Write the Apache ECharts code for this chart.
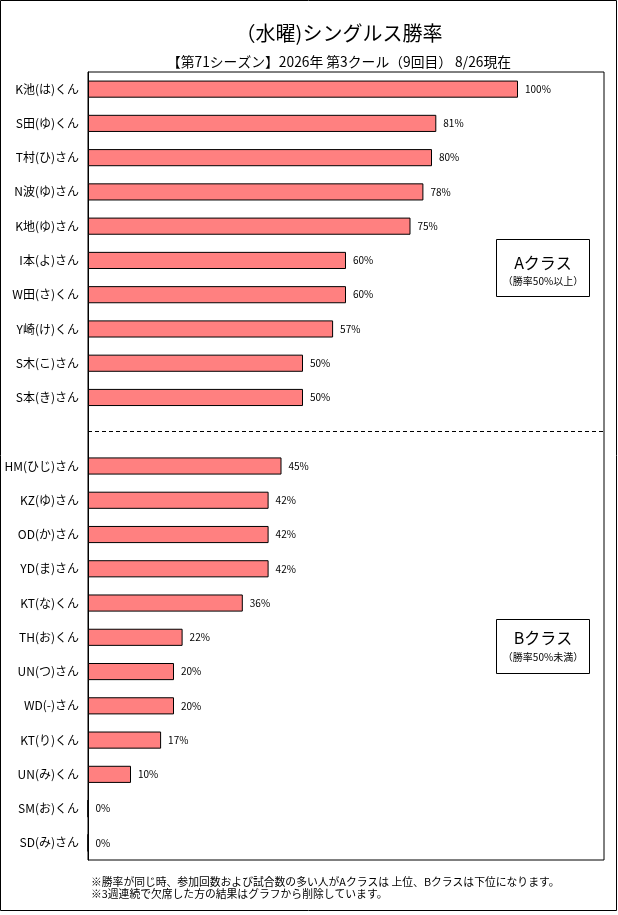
<!DOCTYPE html>
<html>
<head>
<meta charset="utf-8">
<script src="https://cdn.jsdelivr.net/npm/echarts@6/dist/echarts.min.js"></script>
<style>
html,body{margin:0;padding:0;background:#fff;}
#c{width:618px;height:915px;}
</style>
</head>
<body>
<div id="c"></div>
<script>
var titleText = '（水曜)シングルス勝率';
var subtitleText = '【第71シーズン】2026年 第3クール（9回目） 8/26現在';
var names = ['K池(は)くん','S田(ゆ)くん','T村(ひ)さん','N波(ゆ)さん','K地(ゆ)さん','I本(よ)さん','W田(さ)くん','Y崎(け)くん','S木(こ)さん','S本(き)さん',
  '',
  'HM(ひじ)さん','KZ(ゆ)さん','OD(か)さん','YD(ま)さん','KT(な)くん','TH(お)くん','UN(つ)さん','WD(-)さん','KT(り)くん','UN(み)くん','SM(お)くん','SD(み)さん'];
var winRates = [100,81,80,78,75,60,60,57,50,50,
  null,
  45,42,42,42,36,22,20,20,17,10,0,0];
var dividerIndex = 10;
var classA = ['Aクラス','（勝率50%以上）'];
var classB = ['Bクラス','（勝率50%未満）'];
var notes = ['※勝率が同じ時、参加回数および試合数の多い人がAクラスは 上位、Bクラスは下位になります。',
             '※3週連続で欠席した方の結果はグラフから削除しています。'];

var FF = '"Noto Sans CJK JP", "Noto Sans", sans-serif';
var chart = echarts.init(document.getElementById('c'), null, {renderer:'canvas'});
chart.setOption({
  animation:false,
  backgroundColor:'#fff',
  textStyle:{fontFamily:FF},
  title:[
    {text:titleText, left:334, textAlign:'center', top:18,
     textStyle:{fontFamily:FF, fontSize:20, fontWeight:'normal', color:'#000'}},
    {text:subtitleText, left:334, textAlign:'center', top:50,
     textStyle:{fontFamily:FF, fontSize:13.8, fontWeight:'normal', color:'#000'}}
  ],
  grid:{left:88, top:72, right:14, bottom:55, show:true, borderColor:'#000', borderWidth:1, backgroundColor:'transparent'},
  xAxis:{type:'value', min:0, max:120, show:false},
  yAxis:{type:'category', data:names, inverse:true,
    axisLine:{show:true, lineStyle:{color:'#000', width:1}},
    axisTick:{show:false},
    axisLabel:{color:'#000', fontSize:12, fontFamily:FF, margin:9}
  },
  series:[{
    type:'bar',
    data:winRates,
    barCategoryGap:'50%',
    itemStyle:{color:'#FF8080', borderColor:'#000', borderWidth:1},
    label:{show:true, position:'right', distance:7, color:'#000', fontSize:10, fontFamily:FF,
      formatter:function(p){return p.value==null?'':p.value+'%';}},
    markLine:{silent:true, symbol:['none','none'], label:{show:false},
      lineStyle:{color:'#000', width:1, type:[4,3]},
      data:[{yAxis:dividerIndex}]}
  }],
  graphic:[
    {type:'rect', shape:{x:0.5,y:0.5,width:616,height:910}, style:{fill:'none', stroke:'#000', lineWidth:1}, silent:true},
    {type:'rect', shape:{x:496.5,y:239.5,width:93,height:57}, style:{fill:'#fff', stroke:'#000', lineWidth:1}, z:10},
    {type:'text', x:543, y:263, z:11, style:{text:classA[0], font:'16px '+FF, fill:'#000', textAlign:'center', textVerticalAlign:'middle'}},
    {type:'text', x:543, y:281, z:11, style:{text:classA[1], font:'10px '+FF, fill:'#000', textAlign:'center', textVerticalAlign:'middle'}},
    {type:'rect', shape:{x:496.5,y:619.5,width:93,height:54}, style:{fill:'#fff', stroke:'#000', lineWidth:1}, z:10},
    {type:'text', x:543, y:638, z:11, style:{text:classB[0], font:'16px '+FF, fill:'#000', textAlign:'center', textVerticalAlign:'middle'}},
    {type:'text', x:543, y:657, z:11, style:{text:classB[1], font:'10px '+FF, fill:'#000', textAlign:'center', textVerticalAlign:'middle'}},
    {type:'text', x:91, y:882, style:{text:notes[0], font:'10.8px '+FF, fill:'#000', textAlign:'left', textVerticalAlign:'middle'}},
    {type:'text', x:91, y:894, style:{text:notes[1], font:'10.8px '+FF, fill:'#000', textAlign:'left', textVerticalAlign:'middle'}}
  ]
});
</script>
</body>
</html>
